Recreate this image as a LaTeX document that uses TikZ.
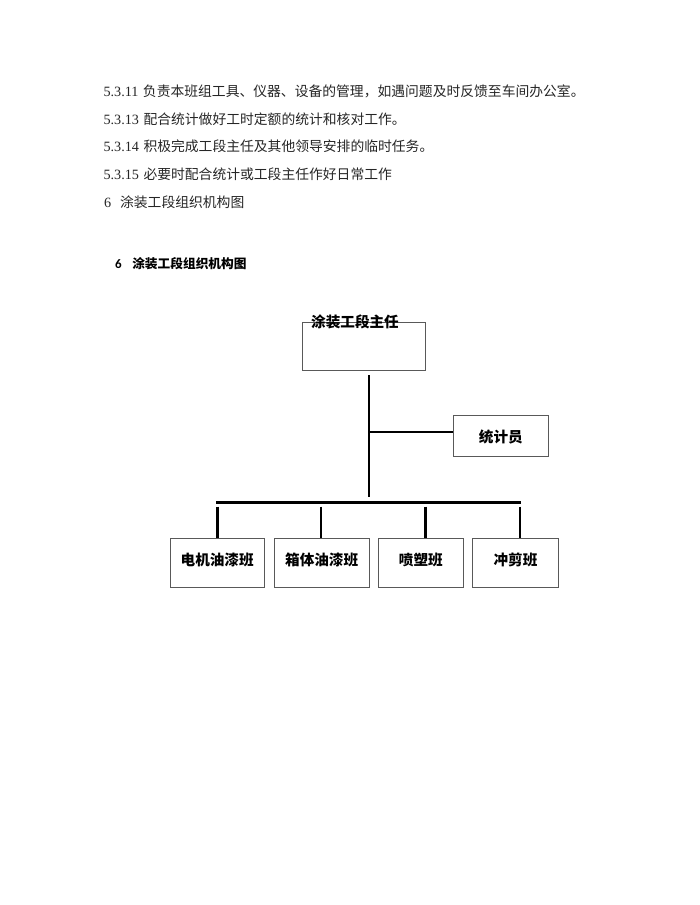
\documentclass[tikz,border=0pt]{standalone}
\usepackage{fontspec}
\setmainfont{Liberation Serif}
\newfontfamily\cjk{Noto Sans CJK SC}
\newfontfamily\hdfont{Carlito}
\begin{document}
\begin{tikzpicture}[x=1pt,y=-1pt,
  body/.style={anchor=base west,inner sep=0pt,text=black!85,font=\fontsize{13.8}{13.8}\selectfont},
  box/.style={draw=black!65,line width=0.9pt,rectangle,inner sep=0pt},
  lbl/.style={anchor=base,inner sep=0pt,font=\cjk\bfseries\fontsize{14.6}{14.6}\selectfont},
  thick line/.style={line width=2.6pt,black},
  mid line/.style={line width=2pt,black}]
\useasboundingbox (0,0) rectangle (700,905);
\fill[white] (0,0) rectangle (700,905);
% body text
\node[body] (t1) at (103.3,96.7) {{\fontsize{14.2}{14.2}\selectfont 5.3.11}\hspace{4.5pt}{\cjk 负责本班组工具、仪器、设备的管理，如遇问题及时反馈至车间办公室。}};
\node[body] (t2) at (103.3,124.3) {{\fontsize{14.2}{14.2}\selectfont 5.3.13}\hspace{4.5pt}{\cjk 配合统计做好工时定额的统计和核对工作。}};
\node[body] (t3) at (103.3,151.8) {{\fontsize{14.2}{14.2}\selectfont 5.3.14}\hspace{4.5pt}{\cjk 积极完成工段主任及其他领导安排的临时任务。}};
\node[body] (t4) at (103.3,179.3) {{\fontsize{14.2}{14.2}\selectfont 5.3.15}\hspace{4.5pt}{\cjk 必要时配合统计或工段主任作好日常工作}};
\node[body] (t5) at (103.8,207.0) {{\fontsize{14.2}{14.2}\selectfont 6}\hspace{9pt}{\cjk 涂装工段组织机构图}};
\node[anchor=base west,inner sep=0pt,text=black] (hd) at (115,268.3)
  {{\hdfont\bfseries\fontsize{13}{13}\selectfont 6}\hspace{10.5pt}{\cjk\bfseries\fontsize{12.7}{12.7}\selectfont 涂装工段组织机构图}};
% boxes
\node[box,minimum width=123.4pt,minimum height=48.4pt] (chief) at (364,346.5) {};
\node[lbl] (chieftext) at (355,327.3) {涂装工段主任};
\node[box,minimum width=95pt,minimum height=40.3pt] (stat) at (500.8,435.9) {};
\node[lbl] (stattext) at ([yshift=-6.5pt]stat.center) {统计员};
\node[box,minimum width=94.3pt,minimum height=48.8pt] (b1) at (217.15,562.9) {};
\node[box,minimum width=94.7pt,minimum height=48.8pt] (b2) at (321.65,562.9) {};
\node[box,minimum width=85pt,minimum height=48.8pt] (b3) at (420.8,562.9) {};
\node[box,minimum width=85.6pt,minimum height=48.8pt] (b4) at (515.5,562.9) {};
\node[lbl] (b1t) at ([yshift=-3pt]b1.center) {电机油漆班};
\node[lbl] (b2t) at ([yshift=-3pt]b2.center) {箱体油漆班};
\node[lbl] (b3t) at ([yshift=-3pt]b3.center) {喷塑班};
\node[lbl] (b4t) at ([yshift=-3pt]b4.center) {冲剪班};
% connectors
\coordinate (trunktop) at (369,375);
\coordinate (trunkbot) at (369,497);
\coordinate (tap) at (369,431.7);
\coordinate (busL) at (216,502.5);
\coordinate (busR) at (521.3,502.5);
\coordinate (d1) at (217.3,506.5);
\coordinate (d2) at (321.3,506.5);
\coordinate (d3) at (425.7,506.5);
\coordinate (d4) at (520,506.5);
\draw[thick line] (trunktop) -- (trunkbot);
\draw[mid line] (tap) -- (tap -| stat.west);
\draw[thick line] (busL) -- (busR);
\draw[thick line] (d1) -- (d1 |- b1.north);
\draw[mid line] (d2) -- (d2 |- b2.north);
\draw[thick line] (d3) -- (d3 |- b3.north);
\draw[thick line] (d4) -- (d4 |- b4.north);
\end{tikzpicture}
\end{document}
